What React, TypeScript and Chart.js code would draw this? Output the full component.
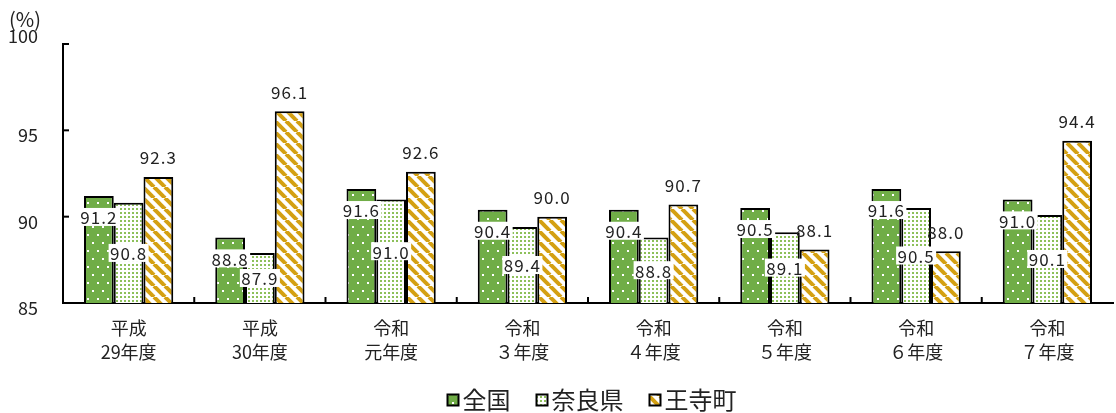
import React, { useEffect, useRef } from "react";
import { Chart, registerables } from "chart.js";

Chart.register(...registerables);

const categories: string[][] = [
  ["平成", "29年度"],
  ["平成", "30年度"],
  ["令和", "元年度"],
  ["令和", "３年度"],
  ["令和", "４年度"],
  ["令和", "５年度"],
  ["令和", "６年度"],
  ["令和", "７年度"],
];
const seriesNames = ["全国", "奈良県", "王寺町"];
const zenkoku = [91.2, 88.8, 91.6, 90.4, 90.4, 90.5, 91.6, 91.0];
const naraken = [90.8, 87.9, 91.0, 89.4, 88.8, 89.1, 90.5, 90.1];
const ojicho = [92.3, 96.1, 92.6, 90.0, 90.7, 88.1, 88.0, 94.4];
const yTicks = [85, 90, 95, 100];

const GREEN = "#70AD47";
const LIGHTGREEN = "#8dc05a";
const GOLD = "#d4a012";
const FONT = "'Noto Sans CJK JP', 'Noto Sans', sans-serif";

function makePattern(kind: number): CanvasPattern | string {
  const c = document.createElement("canvas");
  const ctx = c.getContext("2d");
  if (!ctx) return "#888";
  if (kind === 0) {
    c.width = 10; c.height = 16;
    ctx.fillStyle = GREEN; ctx.fillRect(0, 0, 10, 16);
    ctx.fillStyle = "#ffffff";
    ctx.fillRect(2, 2, 2, 2);
    ctx.fillRect(7, 10, 2, 2);
  } else if (kind === 1) {
    c.width = 4; c.height = 4;
    ctx.fillStyle = "#ffffff"; ctx.fillRect(0, 0, 4, 4);
    ctx.fillStyle = LIGHTGREEN;
    ctx.fillRect(0, 0, 2, 2);
  } else {
    const s = 11;
    c.width = s; c.height = s;
    ctx.fillStyle = "#ffffff"; ctx.fillRect(0, 0, s, s);
    ctx.strokeStyle = GOLD; ctx.lineWidth = 4;
    for (const off of [-s, 0, s]) {
      ctx.beginPath();
      ctx.moveTo(off, 0);
      ctx.lineTo(off + s, s);
      ctx.stroke();
    }
  }
  const p = ctx.createPattern(c, "repeat");
  return p || "#888";
}

export default function App() {
  const ref = useRef<HTMLCanvasElement | null>(null);
  useEffect(() => {
    if (!ref.current) return;
    const patterns = [makePattern(0), makePattern(1), makePattern(2)];
    const seriesData = [zenkoku, naraken, ojicho];

    const decoPlugin = {
      id: "deco",
      afterDatasetsDraw(chart: any) {
        const ctx = chart.ctx;
        const area = chart.chartArea;
        const ys = chart.scales.y;
        const xs = chart.scales.x;
        ctx.save();
        // inner ticks
        ctx.strokeStyle = "#000"; ctx.lineWidth = 2;
        yTicks.forEach((v) => {
          const py = ys.getPixelForValue(v);
          ctx.beginPath(); ctx.moveTo(area.left, py); ctx.lineTo(area.left + 6, py); ctx.stroke();
        });
        for (let i = 1; i < categories.length; i++) {
          const px = (xs.getPixelForValue(i - 1) + xs.getPixelForValue(i)) / 2;
          ctx.beginPath(); ctx.moveTo(px, area.bottom); ctx.lineTo(px, area.bottom - 6); ctx.stroke();
        }
        // y tick labels
        ctx.font = `18px ${FONT}`;
        ctx.fillStyle = "#222";
        ctx.textAlign = "right";
        ctx.textBaseline = "middle";
        yTicks.forEach((v) => {
          const py = ys.getPixelForValue(v);
          const off = v === ys.max ? -8 : 5;
          ctx.fillText(String(v), area.left - 25, py + off);
        });
        // value labels
        ctx.font = `17px ${FONT}`;
        (ctx as any).letterSpacing = "1px";
        ctx.textAlign = "center";
        ctx.textBaseline = "middle";
        const basePx = ys.getPixelForValue(ys.min);
        seriesData.forEach((arr, di) => {
          const meta = chart.getDatasetMeta(di);
          meta.data.forEach((bar: any, j: number) => {
            const x = bar.x;
            const y = bar.y;
            const txt = arr[j].toFixed(1);
            let ty = y - 20;
            if (di === 0) ty = y + 21;
            if (di === 1) ty = (y + basePx) / 2;
            if (di !== 2) {
              const w = ctx.measureText(txt).width + 3;
              ctx.fillStyle = "#ffffff";
              ctx.fillRect(x - w / 2, ty - 9, w, 18);
            }
            ctx.fillStyle = "#222";
            ctx.fillText(txt, x, ty + 1);
          });
        });
        (ctx as any).letterSpacing = "0px";
        // unit
        ctx.font = `20px ${FONT}`;
        ctx.textAlign = "left";
        ctx.fillStyle = "#222";
        ctx.fillText("(%)", 9, 19);
        // legend
        ctx.font = `24px ${FONT}`;
        const box = 11, gap = 4, sep = 26;
        const widths = seriesNames.map((n) => box + gap + ctx.measureText(n).width);
        const total = widths.reduce((a, b) => a + b, 0) + sep * (seriesNames.length - 1);
        let lx = (area.left + area.right) / 2 - total / 2 + 4;
        const ly = 400;
        seriesNames.forEach((n, i) => {
          ctx.fillStyle = patterns[i];
          ctx.fillRect(lx, ly - box / 2, box, box);
          ctx.strokeStyle = "#000"; ctx.lineWidth = 2;
          ctx.strokeRect(lx, ly - box / 2, box, box);
          ctx.fillStyle = "#222";
          ctx.textBaseline = "middle";
          ctx.fillText(n, lx + box + gap, ly);
          lx += widths[i] + sep;
        });
        ctx.restore();
      },
    };

    const chart = new Chart(ref.current, {
      type: "bar",
      data: {
        labels: categories,
        datasets: seriesData.map((d, i) => ({
          label: seriesNames[i],
          data: d,
          backgroundColor: patterns[i] as any,
          borderColor: "#000",
          borderWidth: 2,
          borderSkipped: "bottom",
          barPercentage: 1.0,
          categoryPercentage: 0.68,
        })),
      },
      options: {
        responsive: false,
        animation: false,
        devicePixelRatio: 1,
        layout: { padding: { top: 44, right: 3, bottom: 50, left: 0 } },
        plugins: { legend: { display: false }, tooltip: { enabled: false }, title: { display: false } },
        scales: {
          x: {
            grid: { display: false, drawTicks: false },
            border: { display: true, color: "#000", width: 2 },
            ticks: { color: "#222", font: { family: FONT, size: 18, lineHeight: 1.33 }, padding: 13, maxRotation: 0, autoSkip: false },
            afterFit(scale: any) { scale.height = 60; },
          },
          y: {
            min: 85,
            max: 100,
            grid: { display: false, drawTicks: false },
            border: { display: true, color: "#000", width: 2 },
            ticks: { stepSize: 5, display: false },
            afterFit(scale: any) { scale.width = 63; },
          },
        },
      },
      plugins: [decoPlugin],
    });
    return () => chart.destroy();
  }, []);
  return (
    <div style={{ position: "fixed", left: 0, top: 0, width: 1116, height: 413, background: "#fff" }}>
      <canvas ref={ref} width={1116} height={413} style={{ width: 1116, height: 413 }} />
    </div>
  );
}
